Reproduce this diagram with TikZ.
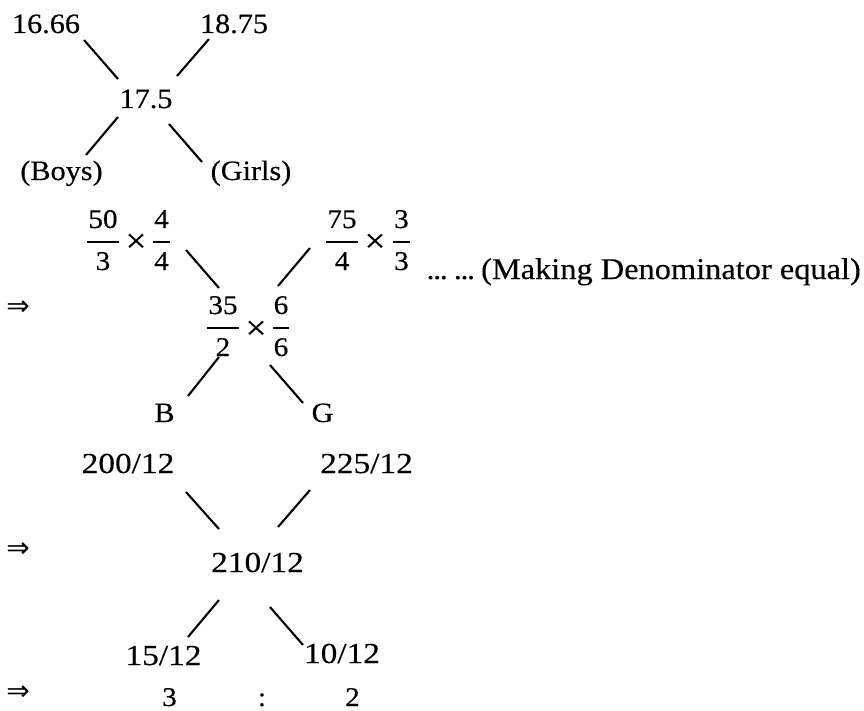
\documentclass[tikz,border=0pt]{standalone}
\usepackage{fontspec}
\setmainfont{Liberation Serif}[FakeStretch=1.08,FakeBold=0.3]
\newfontfamily\widefont{Liberation Serif}[FakeStretch=1.15,FakeBold=0.3]
\newfontfamily\symfont{DejaVu Sans}
\newcommand\fsz[1]{\fontsize{#1}{#1}\selectfont}
% narrow ellipsis
\newcommand\ndots{.\kern-0.05em.\kern-0.05em.}

\tikzset{
  lbl/.style={inner sep=0pt, anchor=base, font=\fsz{28}},
  wlbl/.style={inner sep=0pt, anchor=base, font=\widefont\fsz{29}},
  dig/.style={inner sep=0pt, anchor=base, font=\fsz{27}},
  times/.style={inner sep=0pt, anchor=center, font=\fsz{34}},
  link/.style={line width=2.1pt},
  bar/.style={line width=1.8pt},
  implies/.style={inner sep=0pt, anchor=center, font=\symfont\fsz{28}},
}

% fraction: name, x, bar y, half bar width, numerator, denominator
\newcommand\frc[6]{%
  \node[dig] (#1n) at (#2,#3-14) {#5};
  \node[dig] (#1d) at (#2,#3+28) {#6};
  \coordinate (#1l) at (#2-#4,#3);
  \coordinate (#1r) at (#2+#4,#3);
  \draw[bar] (#1l) -- (#1r);
}

\begin{document}
\begin{tikzpicture}[x=1pt,y=-1pt]
\useasboundingbox (0,0) rectangle (864,711);

% ---- first cross: averages ----
\node[lbl] (t1) at (46,33) {16.66};
\node[lbl] (t2) at (234,33) {18.75};
\node[lbl] (t3) at (146,108) {17.5};
\node[lbl] (t4) at (61.5,180) {(Boys)};
\node[lbl] (t5) at (251,180) {(Girls)};

\coordinate (p1a) at (84,40);   \coordinate (p1b) at (118,79);
\coordinate (p2a) at (209,39);  \coordinate (p2b) at (177,76);
\coordinate (p3a) at (118,117); \coordinate (p3b) at (86,155);
\coordinate (p4a) at (169,124); \coordinate (p4b) at (202,162);
\draw[link] (p1a) -- (p1b);
\draw[link] (p2a) -- (p2b);
\draw[link] (p3a) -- (p3b);
\draw[link] (p4a) -- (p4b);

% ---- second cross: fractions ----
\node[implies] (r1) at (18,308) {⇒};

\frc{fa}{103}{242}{16}{50}{3}
\node[times] (xa) at (136,243) {×};
\frc{fb}{161.5}{242}{8.5}{4}{4}

\frc{fc}{342}{242}{16}{75}{4}
\node[times] (xc) at (375,243) {×};
\frc{fd}{401.5}{242}{8.5}{3}{3}

\frc{fe}{223}{328}{16}{35}{2}
\node[times] (xe) at (256,330) {×};
\frc{ff}{281}{328}{8}{6}{6}

\node[inner sep=0pt, anchor=base east, font=\fsz{30}] (note) at (861,279)
  {\ndots\hspace{0.2em}\ndots\hspace{0.2em}(Making Denominator equal)};

\coordinate (q1a) at (186,250); \coordinate (q1b) at (219,288);
\coordinate (q2a) at (310,248); \coordinate (q2b) at (278,286);
\coordinate (q3a) at (219,357); \coordinate (q3b) at (188,396);
\coordinate (q4a) at (270,365); \coordinate (q4b) at (303,403);
\draw[link] (q1a) -- (q1b);
\draw[link] (q2a) -- (q2b);
\draw[link] (q3a) -- (q3b);
\draw[link] (q4a) -- (q4b);

\node[lbl] (nb) at (164.5,422) {B};
\node[lbl] (ng) at (322.5,422) {G};

% ---- third cross: common denominator ----
\node[wlbl] (u1) at (128,473) {200/12};
\node[wlbl] (u2) at (366.5,473) {225/12};
\node[implies] (r2) at (18,550) {⇒};
\node[wlbl] (u3) at (257.5,572) {210/12};
\node[wlbl] (u4) at (163.5,665) {15/12};
\node[wlbl] (u5) at (342,663) {10/12};

\coordinate (s1a) at (186,492); \coordinate (s1b) at (219,529);
\coordinate (s2a) at (310,490); \coordinate (s2b) at (278,527);
\coordinate (s3a) at (219,600); \coordinate (s3b) at (188,637);
\coordinate (s4a) at (270,607); \coordinate (s4b) at (303,645);
\draw[link] (s1a) -- (s1b);
\draw[link] (s2a) -- (s2b);
\draw[link] (s3a) -- (s3b);
\draw[link] (s4a) -- (s4b);

% ---- ratio ----
\node[implies] (r3) at (18,693) {⇒};
\node[dig] (v1) at (169.5,706) {3};
\node[dig] (v2) at (262,706) {:};
\node[dig] (v3) at (352.5,706) {2};
\end{tikzpicture}
\end{document}
